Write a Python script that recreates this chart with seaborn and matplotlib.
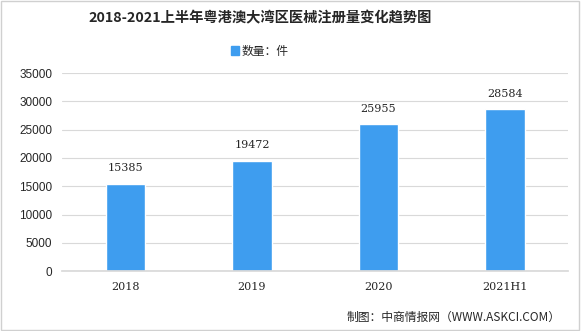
import matplotlib
matplotlib.use("Agg")
import matplotlib.pyplot as plt
import seaborn as sns
import pandas as pd
from matplotlib.patches import Rectangle

categories = ["2018", "2019", "2020", "2021H1"]
values = [15385, 19472, 25955, 28584]
yticks = [0, 5000, 10000, 15000, 20000, 25000, 30000, 35000]
title = "2018-2021上半年粤港澳大湾区医械注册量变化趋势图"
legend_label = "数量：件"
source = "制图：中商情报网（WWW.ASKCI.COM）"

sns.set_theme(style="white")
plt.rcParams['font.family'] = ['Noto Sans CJK SC', 'DejaVu Sans']

df = pd.DataFrame({"cat": categories, "val": values})
color = "#3e9def"

fig = plt.figure(figsize=(5.81, 3.31), dpi=100)
ax = fig.add_axes([0.107, 0.181, 0.871, 0.598])
sns.barplot(data=df, x="cat", y="val", color=color, width=0.31, ax=ax, saturation=1)

ax.set_ylim(0, 35000)
ax.set_yticks(yticks)
ax.set_yticklabels([str(t) for t in yticks], fontsize=8.5, family=['Liberation Sans'])
ax.set_xlim(-0.5, 3.5)
ax.set_xlabel("")
ax.set_ylabel("")
ax.tick_params(axis='x', labelsize=8, length=0, pad=8)
ax.tick_params(axis='y', length=0, pad=7)
for lab in ax.get_xticklabels():
    lab.set_family(['DejaVu Serif'])
ax.yaxis.grid(True, color="#d9d9d9", linewidth=0.8)
ax.set_axisbelow(True)
for s in ["top", "right", "left"]:
    ax.spines[s].set_visible(False)
ax.spines["bottom"].set_color("#d9d9d9")

for i, v in enumerate(values):
    ax.text(i, v + 1900, str(v), ha="center", va="bottom", fontsize=8, family=['DejaVu Serif'])

fig.text(0.448, 0.945, title, ha="center", va="center", fontsize=10.3, fontweight="bold")
fig.patches.append(Rectangle((0.398, 0.833), 0.013, 0.028, transform=fig.transFigure, color=color))
fig.text(0.416, 0.845, legend_label, ha="left", va="center", fontsize=8.5)
fig.text(0.965, 0.04, source, ha="right", va="center", fontsize=8.5)
fig.patches.append(Rectangle((0.002, 0.003), 0.995, 0.994, transform=fig.transFigure,
                             fill=False, edgecolor="#d0d0d0", linewidth=1))

fig.savefig("out.png", dpi=100)
